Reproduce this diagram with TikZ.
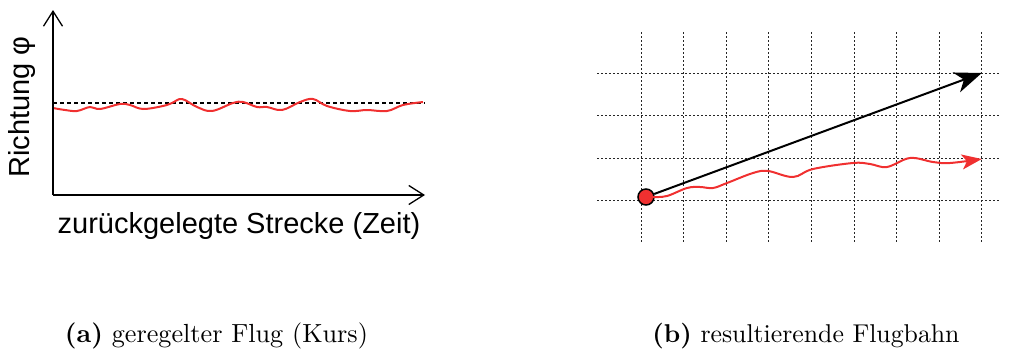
\documentclass[tikz,border=0pt]{standalone}
\usepackage{fontspec}
\newfontfamily\arial{Liberation Sans}
\usetikzlibrary{arrows.meta}
\definecolor{wred}{HTML}{F03030}
\begin{document}
\begin{tikzpicture}[x=1pt,y=-1pt,
  axis/.style={line width=1.6pt,-{Straight Barb[length=15pt,width=19pt,line width=1.3pt]}},
  gridline/.style={line width=1pt,dash pattern=on 2pt off 2pt,black!85},
  wave/.style={wred,line width=2pt},
  lbl/.style={font=\arial\fontsize{29}{33}\selectfont,inner sep=0pt},
  captxt/.style={font=\normalsize,inner sep=0pt,anchor=base}]
\useasboundingbox (0,0) rectangle (1014,351);
% ---------- left plot
\coordinate (o) at (53,195);
\coordinate (ytop) at (53,10);
\coordinate (xend) at (425,195);
\coordinate (d1) at (53,103);
\coordinate (d2) at (425,103);
\draw[line width=2pt,dash pattern=on 4pt off 3pt] (d1) -- (d2);
\draw[wave] plot[smooth,tension=0.6] coordinates {(53,108) (65,110) (77,111) (90,107) (100,109) (120,104) (130,105) (143,109) (163,106) (172,103) (182,99) (197,107) (212,111) (233,103) (243,102) (257,107) (267,107) (282,110) (300,102) (313,99) (327,106) (350,111) (367,110) (387,111) (403,105) (423,102)};
\draw[axis] (o) -- (ytop);
\draw[axis] (o) -- (xend);
\node[lbl,rotate=90] (ylab) at (22,107) {Richtung φ};
\node[lbl,anchor=base] (xlab) at (239,233) {zurückgelegte Strecke (Zeit)};
% ---------- right plot
\foreach \x in {641,683.6,726.2,768.8,811.4,854,896.6,939.2,981.8}
  \draw[gridline] (\x,32) -- (\x,242);
\foreach \y in {73,115.6,158.2,200.8}
  \draw[gridline] (597,\y) -- (1000,\y);
\coordinate (t1) at (981.8,73);
\coordinate (t2) at (981.8,159);
\node[circle,draw=black,fill=wred,line width=1.5pt,minimum size=16pt,inner sep=0pt] (s) at (646,197) {};
\draw[line width=2pt,-{Stealth[length=27pt,width=21pt,inset=8pt]}] (s) -- (t1);
\draw[wave,-{Stealth[length=20pt,width=15pt,inset=5pt]}] plot[smooth,tension=0.6] coordinates {(653,197) (667,196) (687,188) (700,187) (713,188) (727,183) (753,173) (768,171) (793,177) (813,169) (853,163) (870,164) (887,167) (910,158) (933,162) (950,163) (t2)};
% ---------- captions
\node[captxt] (ca) at (216.5,342) {\resizebox{303pt}{!}{\textbf{(a)} geregelter Flug (Kurs)}};
\node[captxt] (cb) at (806,342) {\resizebox{307pt}{!}{\textbf{(b)} resultierende Flugbahn}};
\end{tikzpicture}
\end{document}
